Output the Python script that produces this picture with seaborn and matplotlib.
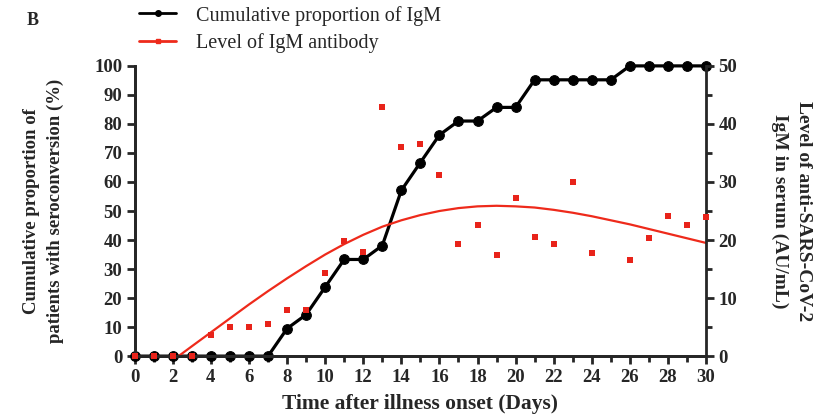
import numpy as np
import pandas as pd
import matplotlib.pyplot as plt
import seaborn as sns
from matplotlib.lines import Line2D
from matplotlib.ticker import MultipleLocator

# days after illness onset
days = list(range(0, 31))
cum_prop = [0, 0, 0, 0, 0, 0, 0, 0, 9.5, 14.3, 23.8, 33.3, 33.3, 38.1, 57.1, 66.7,
            76.2, 81.0, 81.0, 85.7, 85.7, 95.2, 95.2, 95.2, 95.2, 95.2,
            100, 100, 100, 100, 100]

# IgM level per day (no sample on day 25)
igm_days = [0, 1, 2, 3, 4, 5, 6, 7, 8, 9, 10, 11, 12, 13, 14, 15, 16, 17, 18, 19,
            20, 21, 22, 23, 24, 26, 27, 28, 29, 30]
igm_level = [0, 0, 0, 0, 3.6, 5.0, 5.0, 5.6, 7.9, 7.9, 14.4, 19.8, 18.0, 43.0, 36.0,
             36.5, 31.2, 19.3, 22.6, 17.5, 27.2, 20.5, 19.3, 30.0, 17.7, 16.6,
             20.3, 24.1, 22.6, 23.9]

# fitted curve
fit_days = [2.3, 3, 4, 5, 6, 7, 8, 9, 10, 11, 12, 13, 14, 15, 16, 17, 18, 19, 20,
            21, 22, 23, 24, 25, 26, 27, 28, 29, 30]
fit_level = [0, 1.7, 4.1, 6.5, 8.9, 11.2, 13.4, 15.5, 17.5, 19.3, 20.9, 22.3, 23.4,
             24.3, 25.0, 25.5, 25.8, 25.9, 25.8, 25.6, 25.2, 24.7, 24.1, 23.4, 22.7,
             21.9, 21.1, 20.3, 19.5]

sns.set_style("ticks")
plt.rcParams['font.family'] = ['Liberation Serif', 'DejaVu Serif']

fig = plt.figure(figsize=(8.37, 4.17), dpi=100)
ax = fig.add_axes([0.161, 0.146, 0.6825, 0.696])
ax2 = ax.twinx()

cum_df = pd.DataFrame({'day': days, 'prop': cum_prop})
igm_df = pd.DataFrame({'day': igm_days, 'level': igm_level})
fit_df = pd.DataFrame({'day': fit_days, 'level': fit_level})

sns.lineplot(data=cum_df, x='day', y='prop', ax=ax, color='black', linewidth=2.3,
             marker='o', markersize=7, markeredgecolor='black', clip_on=False)
sns.lineplot(data=fit_df, x='day', y='level', ax=ax2, color='#ee2a1b', linewidth=1.6,
             clip_on=False)
sns.scatterplot(data=igm_df, x='day', y='level', ax=ax2, color='#e8231a', marker='s',
                s=24, linewidth=0, clip_on=False, zorder=5)

ax.set_xlim(0, 30)
ax.set_ylim(0, 100)
ax2.set_ylim(0, 50)
ax.set_xticks(range(0, 31, 2))
ax.xaxis.set_minor_locator(MultipleLocator(1))
ax.set_yticks(range(0, 101, 10))
ax2.set_yticks(range(0, 51, 10))
ax2.yaxis.set_minor_locator(MultipleLocator(5))

for a in (ax, ax2):
    for side in a.spines.values():
        side.set_linewidth(2)
    a.spines['top'].set_visible(False)
    a.tick_params(which='major', width=2, length=6, labelsize=13.5, pad=3)
    a.tick_params(which='minor', width=2, length=4)
    for lab in a.get_xticklabels() + a.get_yticklabels():
        lab.set_fontweight('bold')
ax.spines['right'].set_visible(False)

ax.set_xlabel('Time after illness onset (Days)', fontsize=15.5, fontweight='bold',
              labelpad=6)
ax.set_ylabel('Cumulative proportion of\npatients with seroconversion (%)',
              fontsize=13.5, fontweight='bold', labelpad=22, linespacing=1.5)
ax2.set_ylabel('Level of anti-SARS-CoV-2\nIgM in serum (AU/mL)', fontsize=14,
               fontweight='bold', rotation=270, labelpad=54, linespacing=1.5)

handles = [Line2D([], [], color='black', linewidth=2, marker='o', markersize=4),
           Line2D([], [], color='#ee2a1b', linewidth=2, marker='s', markersize=3)]
fig.legend(handles, ['Cumulative proportion of IgM', 'Level of IgM antibody'],
           loc='upper left', bbox_to_anchor=(0.145, 1.03), frameon=False,
           fontsize=14.5, handlelength=1.8, labelspacing=0.4, handletextpad=1.0)
fig.text(0.032, 0.952, 'B', fontsize=13, fontweight='bold', va='center')

fig.savefig('out.png', dpi=100)
